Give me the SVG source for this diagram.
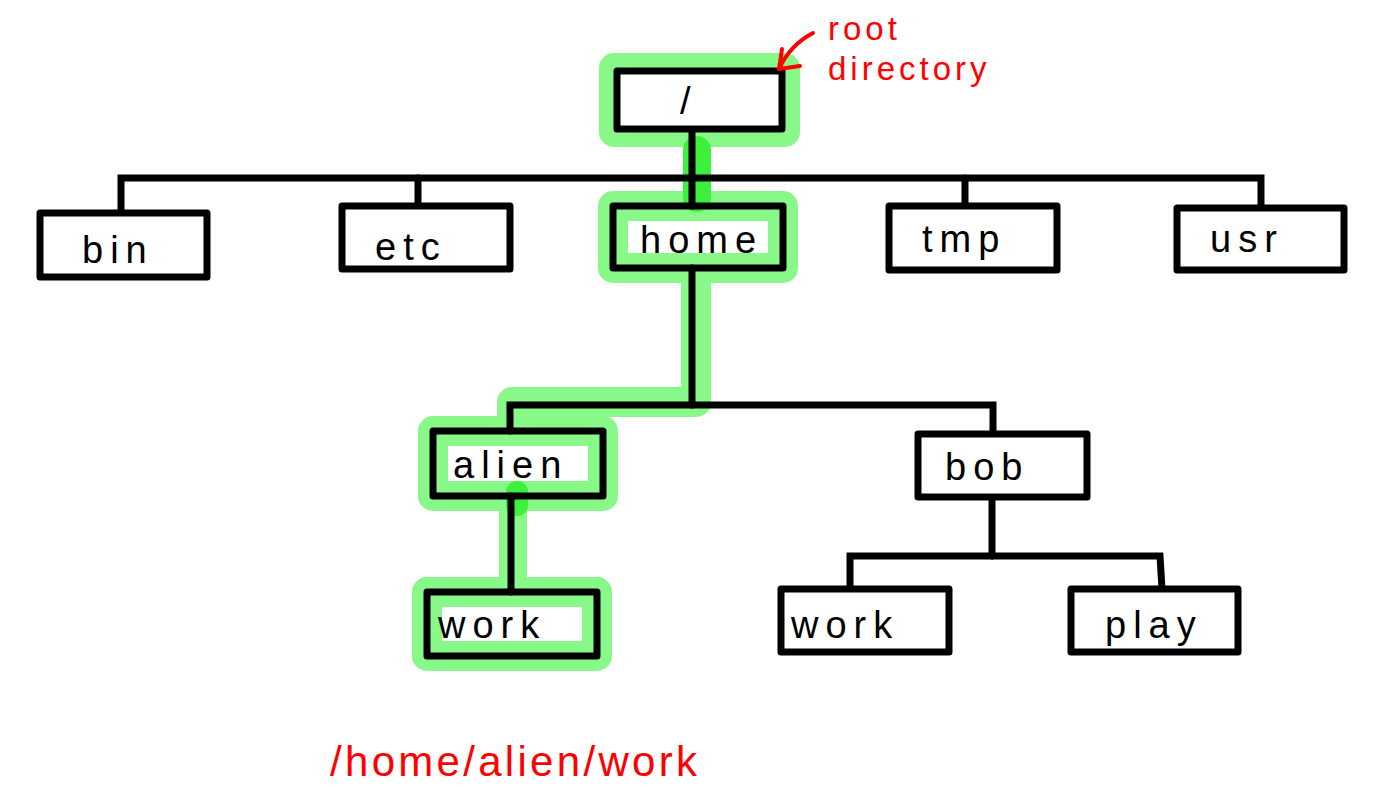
<svg xmlns="http://www.w3.org/2000/svg" width="1373" height="804" viewBox="0 0 1373 804">
<style>
.box{fill:#fff;stroke:#000;stroke-width:7;stroke-linejoin:round}
.ln{stroke:#000;stroke-width:7;stroke-linecap:round;fill:none}
.hl{stroke:#88f888;fill:none;stroke-linejoin:round;stroke-linecap:round}
.hd{stroke:#3cf03c;fill:none;stroke-linecap:round}
.lbl{font-family:"Liberation Sans",Arial,sans-serif;font-size:38px;fill:#000;letter-spacing:7px}
.red{font-family:"Liberation Sans",Arial,sans-serif;fill:#ff0000}
</style>
<rect width="1373" height="804" fill="#fff"/>
<g id="highlight">
<rect class="hl" x="614" y="68" width="171" height="64" stroke-width="30"/>
<rect class="hl" x="613" y="206" width="170" height="62" stroke-width="30"/>
<path class="hl" d="M696 268 L696 402 L512 402 L512 431" stroke-width="30"/>
<rect class="hl" x="433" y="431" width="170" height="65" stroke-width="30"/>
<path class="hl" d="M513 496 L513 592" stroke-width="28"/>
<rect class="hl" x="427" y="592" width="170" height="64" stroke-width="30"/>
<path class="hd" d="M697 150 L697 198" stroke-width="28"/>
<path class="hd" d="M517 492 L517 505" stroke-width="22"/>
</g>
<g id="connectors">
<path class="ln" d="M692 132 L692 206"/>
<path class="ln" d="M121 213 L121 178 L1261 178 L1261 208"/>
<path class="ln" d="M418 178 L418 206"/>
<path class="ln" d="M965 178 L965 206"/>
<path class="ln" d="M692 268 L692 405"/>
<path class="ln" d="M510 431 L510 405 L993 405 L993 434"/>
<path class="ln" d="M511 496 L511 592"/>
<path class="ln" d="M992 497 L992 556"/>
<path class="ln" d="M850 589 L850 556 L1160 556 L1162 589"/>
</g>
<g id="root"><rect class="box" x="617" y="71" width="165" height="58"/><text class="lbl" x="680" y="114" font-size="44">/</text></g>
<g id="bin"><rect class="box" x="40" y="213" width="167" height="64"/><text class="lbl" x="82" y="263">bin</text></g>
<g id="etc"><rect class="box" x="342" y="206" width="168" height="63"/><text class="lbl" x="375" y="260">etc</text></g>
<g id="home"><rect class="box" x="613" y="206" width="170" height="62" style="fill:none"/><text class="lbl" x="640" y="253">home</text></g>
<g id="tmp"><rect class="box" x="889" y="206" width="168" height="64"/><text class="lbl" x="922" y="252">tmp</text></g>
<g id="usr"><rect class="box" x="1177" y="208" width="167" height="62"/><text class="lbl" x="1210" y="252">usr</text></g>
<g id="alien"><rect class="box" x="433" y="431" width="170" height="65" style="fill:none"/><text class="lbl" x="453" y="478">alien</text></g>
<g id="bob"><rect class="box" x="918" y="434" width="169" height="63"/><text class="lbl" x="945" y="480">bob</text></g>
<g id="work1"><rect class="box" x="427" y="592" width="170" height="64" style="fill:none"/><text class="lbl" x="438" y="638">work</text></g>
<g id="work2"><rect class="box" x="781" y="589" width="168" height="63"/><text class="lbl" x="791" y="638">work</text></g>
<g id="play"><rect class="box" x="1071" y="589" width="167" height="63"/><text class="lbl" x="1105" y="638">play</text></g>
<g id="annotation">
<path d="M813 33 Q790 45 779 69 M779 69 L782 49 M779 69 L800 66" fill="none" stroke="#ff0000" stroke-width="4" stroke-linecap="round" stroke-linejoin="round"/>
<text class="red" x="828" y="40" font-size="33" letter-spacing="4">root</text>
<text class="red" x="828" y="80" font-size="33" letter-spacing="4">directory</text>
<text class="red" x="330" y="776" font-size="42" letter-spacing="3.3">/home/alien/work</text>
</g>
</svg>
